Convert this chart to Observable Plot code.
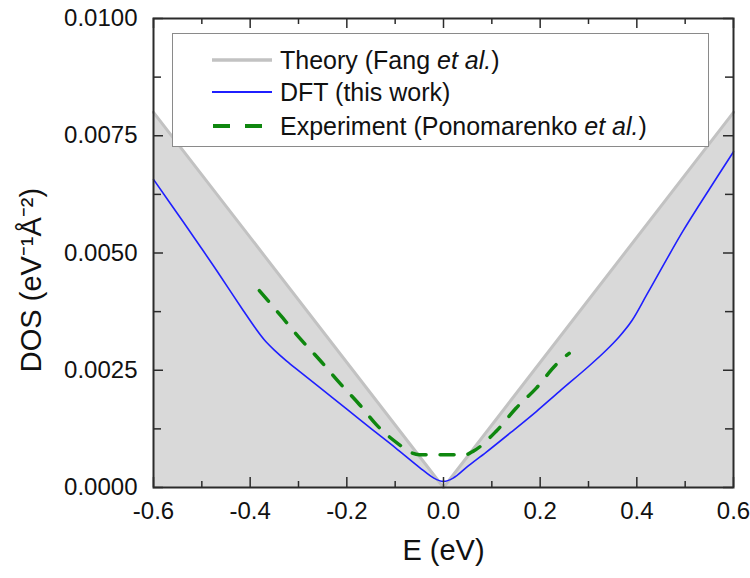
<!DOCTYPE html>
<html><head><meta charset="utf-8">
<script src="https://cdn.jsdelivr.net/npm/d3@7"></script>
<script src="https://cdn.jsdelivr.net/npm/@observablehq/plot@0.6"></script>
<style>
body{margin:0;background:#fff;font-family:"Liberation Sans",Arial,sans-serif;}
#wrap{position:relative;width:750px;height:578px;}
#legend{position:absolute;left:172px;top:33px;width:537px;height:114px;box-sizing:border-box;border:1.5px solid #8a8a8a;background:#fff;}
.row{position:absolute;left:0;height:30px;display:flex;align-items:center;font-size:25px;color:#111;white-space:nowrap;}
.row svg{margin-left:39px;margin-right:8px;}
</style></head>
<body><div id="wrap"></div>
<script>
// Theory (Fang et al.)
const theoryE = [-0.6, 0.0, 0.6];
const theoryDOS = [0.0080, 0.0, 0.0080];
// DFT (this work)
const dftE = [-0.6, -0.539, -0.5, -0.469, -0.44, -0.414, -0.39, -0.37, -0.35, -0.325, -0.3, -0.257, -0.2, -0.153, -0.1, -0.05, -0.02, 0.0, 0.02, 0.05, 0.088, 0.14, 0.192, 0.24, 0.3, 0.335, 0.364, 0.39, 0.42, 0.45, 0.495, 0.55, 0.6];
const dftDOS = [0.00657, 0.00567, 0.00509, 0.00462, 0.00417, 0.00377, 0.00341, 0.00314, 0.00293, 0.00270, 0.00249, 0.00214, 0.00167, 0.00128, 0.00085, 0.00043, 0.0002, 0.00013, 0.0002, 0.00045, 0.00075, 0.00118, 0.00162, 0.00205, 0.00258, 0.00291, 0.00322, 0.00356, 0.0041, 0.00465, 0.00546, 0.00636, 0.00716];
// Experiment (Ponomarenko et al.)
const expE = [-0.381, -0.333, -0.298, -0.257, -0.215, -0.174, -0.139, -0.091, -0.07, -0.05, 0.0, 0.045, 0.061, 0.109, 0.15, 0.192, 0.233, 0.26];
const expDOS = [0.0042, 0.00362, 0.00319, 0.00273, 0.00223, 0.00177, 0.00134, 0.00091, 0.00076, 0.0007, 0.0007, 0.0007, 0.00077, 0.0012, 0.00169, 0.00212, 0.00262, 0.00286];
// ticks
const xMajor = [-0.6, -0.4, -0.2, 0.0, 0.2, 0.4, 0.6];
const xMinor = [-0.5, -0.3, -0.1, 0.1, 0.3, 0.5];
const yMajor = [0.0, 0.0025, 0.005, 0.0075, 0.01];
const yMinor = [0.00125, 0.00375, 0.00625, 0.00875];
const xLabel = "E (eV)";
const yLabel = "DOS (eV\u207B\u00B9\u00C5\u207B\u00B2)";

const theory = theoryE.map((e, i) => ({E: e, DOS: theoryDOS[i]}));
const dft = dftE.map((e, i) => ({E: e, DOS: dftDOS[i]}));
const expt = expE.map((e, i) => ({E: e, DOS: expDOS[i]}));

const W = 750, H = 578, mL = 153, mR = 17, mT = 18, mB = 91;
const iW = W - mL - mR, iH = H - mT - mB;
const ink = "#2b2b2b";
const blue = "#1f1fff", green = "#0f870f", grayLine = "#c2c2c2", grayFill = "#d9d9d9";

const chart = Plot.plot({
  width: W, height: H,
  marginLeft: mL, marginRight: mR, marginTop: mT, marginBottom: mB,
  style: {fontFamily: '"Liberation Sans", Arial, sans-serif', fontSize: "24px", color: "#111", background: "white"},
  x: {domain: [-0.6, 0.6], ticks: xMajor, tickFormat: d => d.toFixed(1), tickSize: 0, tickPadding: 14, label: null},
  y: {domain: [0, 0.01], ticks: yMajor, tickFormat: d => d.toFixed(4), tickSize: 0, tickPadding: 16, label: null},
  marks: [
    Plot.areaY(theory, {x: "E", y: "DOS", fill: grayFill}),
    Plot.line(theory, {x: "E", y: "DOS", stroke: grayLine, strokeWidth: 3}),
    Plot.line(dft, {x: "E", y: "DOS", stroke: blue, strokeWidth: 1.6, curve: "catmull-rom"}),
    Plot.line(expt, {x: "E", y: "DOS", stroke: green, strokeWidth: 3.5, strokeDasharray: "14,14", curve: "monotone-x"}),
    Plot.tickX(xMajor, {x: d => d, insetTop: iH - 10, stroke: ink, strokeWidth: 1.5}),
    Plot.tickX(xMinor, {x: d => d, insetTop: iH - 6, stroke: ink, strokeWidth: 1.5}),
    Plot.tickX(xMajor, {x: d => d, insetBottom: iH - 10, stroke: ink, strokeWidth: 1.5}),
    Plot.tickX(xMinor, {x: d => d, insetBottom: iH - 6, stroke: ink, strokeWidth: 1.5}),
    Plot.tickY(yMajor, {y: d => d, insetRight: iW - 10, stroke: ink, strokeWidth: 1.5}),
    Plot.tickY(yMinor, {y: d => d, insetRight: iW - 8, stroke: ink, strokeWidth: 1.5}),
    Plot.tickY(yMajor, {y: d => d, insetLeft: iW - 10, stroke: ink, strokeWidth: 1.5}),
    Plot.tickY(yMinor, {y: d => d, insetLeft: iW - 8, stroke: ink, strokeWidth: 1.5}),
    Plot.frame({stroke: ink, strokeWidth: 2}),
    Plot.text([xLabel], {frameAnchor: "bottom", dy: 72, text: d => d, fontSize: 29, fill: "#111"}),
    Plot.text([yLabel], {frameAnchor: "left", textAnchor: "middle", lineAnchor: "middle", dx: -122, dy: 27, rotate: -90, text: d => d, fontSize: 29, fill: "#111"})
  ]
});
const wrap = document.getElementById("wrap");
wrap.appendChild(chart);

// legend
const legendItems = [
  {html: 'Theory (Fang <i>et al.</i>)', stroke: grayLine, width: 3.5, dash: null, top: 11},
  {html: 'DFT (this work)', stroke: blue, width: 2, dash: null, top: 43},
  {html: 'Experiment (Ponomarenko <i>et al.</i>)', stroke: green, width: 4, dash: "17,15", top: 77}
];
const legend = document.createElement("div");
legend.id = "legend";
for (const it of legendItems) {
  const row = document.createElement("div");
  row.className = "row";
  row.style.top = it.top + "px";
  row.innerHTML = `<svg width="60" height="10"><line x1="0" x2="60" y1="5" y2="5" stroke="${it.stroke}" stroke-width="${it.width}" ${it.dash ? `stroke-dasharray="${it.dash}" stroke-dashoffset="-1"` : ""}/></svg><span>${it.html}</span>`;
  legend.appendChild(row);
}
wrap.appendChild(legend);
</script></body></html>
